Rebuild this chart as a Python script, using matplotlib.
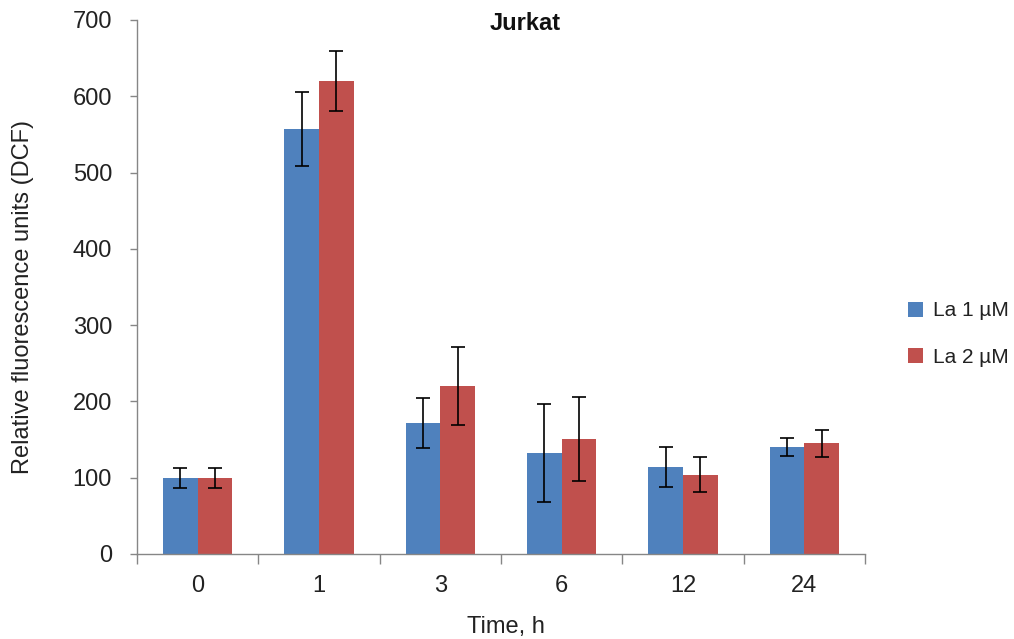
import matplotlib
matplotlib.use("Agg")
import matplotlib.pyplot as plt
import numpy as np
from matplotlib.patches import Patch

plt.rcParams['font.family'] = ['Liberation Sans', 'DejaVu Sans']

categories = ["0", "1", "3", "6", "12", "24"]
la1_values = [100, 557, 172, 132, 114, 140]
la1_errors = [13, 49, 33, 64, 26, 12]
la2_values = [100, 620, 220, 151, 104, 145]
la2_errors = [13, 39, 51, 55, 23, 18]
series_labels = ["La 1 µM", "La 2 µM"]
yticks = [0, 100, 200, 300, 400, 500, 600, 700]

blue = "#4F81BD"
red = "#C0504D"
axis_gray = "#868686"
text_color = "#222222"
fs = 17

fig = plt.figure(figsize=(10.14, 6.39), dpi=100)
ax = fig.add_axes([137/1014, 1-554/639, (865-137)/1014, (554-20)/639])

x = np.arange(len(categories))
w = 0.285
ax.bar(x - w/2, la1_values, width=w, color=blue, edgecolor="none", zorder=2)
ax.bar(x + w/2, la2_values, width=w, color=red, edgecolor="none", zorder=2)
ax.errorbar(x - w/2, la1_values, yerr=la1_errors, fmt="none", ecolor="black",
            elinewidth=1.2, capsize=5, capthick=1.2, zorder=3)
ax.errorbar(x + w/2, la2_values, yerr=la2_errors, fmt="none", ecolor="black",
            elinewidth=1.2, capsize=5, capthick=1.2, zorder=3)

ax.set_xlim(-0.5, len(categories) - 0.5)
ax.set_ylim(0, 700)
ax.set_yticks(yticks)
ax.set_yticklabels([str(v) for v in yticks], fontsize=fs, color=text_color)
ax.set_xticks(np.arange(-0.5, len(categories), 1.0))
ax.set_xticklabels([])
ax.set_xticks(x, minor=True)
ax.set_xticklabels(categories, minor=True, fontsize=fs, color=text_color)
ax.tick_params(axis="x", which="major", length=7, color=axis_gray, width=1)
ax.tick_params(axis="x", which="minor", length=0, pad=15)
ax.tick_params(axis="y", length=5, color=axis_gray, width=1, pad=13)

for s in ["top", "right"]:
    ax.spines[s].set_visible(False)
for s in ["left", "bottom"]:
    ax.spines[s].set_color(axis_gray)
    ax.spines[s].set_linewidth(1)

fig.text(23/1014, 1-297/639, "Relative fluorescence units (DCF)", rotation=90,
         ha="center", va="center", fontsize=fs, color=text_color)
fig.text(506/1014, 1-627/639, "Time, h", ha="center", va="center",
         fontsize=fs, color=text_color)
fig.text(525/1014, 1-23/639, "Jurkat", ha="center", va="center",
         fontsize=fs, fontweight="bold", color="#111111")

handles = [Patch(facecolor=blue, edgecolor="none"), Patch(facecolor=red, edgecolor="none")]
fig.legend(handles, series_labels, loc="center left",
           bbox_to_anchor=(908/1014, 1-334/639), frameon=False, borderpad=0,
           borderaxespad=0,
           fontsize=15, handlelength=0.72, handleheight=0.72, handletextpad=0.48,
           labelspacing=1.3, labelcolor=text_color)

fig.savefig("out.png", dpi=100)
